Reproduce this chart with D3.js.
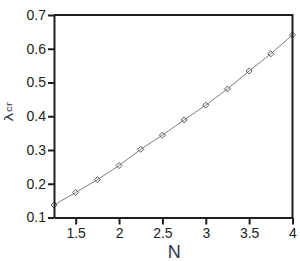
<!DOCTYPE html>
<html>
<head>
<meta charset="utf-8">
<script src="https://cdn.jsdelivr.net/npm/d3@7"></script>
<style>
  html, body { margin: 0; padding: 0; background: #fff; }
  svg { display: block; }
  .tick text { font-family: "Liberation Sans", Arial, Helvetica, sans-serif; font-size: 14px; fill: #222; }
</style>
</head>
<body>
<svg id="chart" width="300" height="261"></svg>
<script>
const N = [1.25, 1.5, 1.75, 2, 2.25, 2.5, 2.75, 3, 3.25, 3.5, 3.75, 4];
const lambdaCr = [0.137, 0.174, 0.212, 0.254, 0.302, 0.344, 0.389, 0.433, 0.481, 0.534, 0.585, 0.641];
const xTicks = [1.5, 2, 2.5, 3, 3.5, 4];
const yTicks = [0.1, 0.2, 0.3, 0.4, 0.5, 0.6, 0.7];
const xDomain = [1.25, 4];
const yDomain = [0.1, 0.7];

const svg = d3.select("#chart");
const mLeft = 54, mRight = 292.5, mTop = 15, mBottom = 217.5;

const x = d3.scaleLinear().domain(xDomain).range([mLeft, mRight]);
const y = d3.scaleLinear().domain(yDomain).range([mBottom, mTop]);

const data = N.map((n, i) => ({ n: n, v: lambdaCr[i] }));

// line
svg.append("path")
  .datum(data)
  .attr("fill", "none")
  .attr("stroke", "#6e6e6e")
  .attr("stroke-width", 0.9)
  .attr("d", d3.line().x(d => x(d.n)).y(d => y(d.v)));

// diamond markers
const diamond = "M0,-3L3,0L0,3L-3,0Z";
svg.append("g").selectAll("path")
  .data(data)
  .join("path")
  .attr("transform", d => `translate(${x(d.n)},${y(d.v)})`)
  .attr("d", diamond)
  .attr("fill", "none")
  .attr("stroke", "#4a4a4a")
  .attr("stroke-width", 0.9);

// box top & right
svg.append("path")
  .attr("d", `M${x(xDomain[0])},${y(yDomain[1])}H${x(xDomain[1])}V${y(yDomain[0])}`)
  .attr("fill", "none")
  .attr("stroke", "#1e1e1e")
  .attr("stroke-width", 2);

// axes
const gx = svg.append("g")
  .attr("transform", `translate(0,${mBottom})`)
  .call(d3.axisBottom(x).tickValues(xTicks).tickSize(7).tickSizeOuter(0).tickPadding(4).tickFormat(d3.format("")));
const gy = svg.append("g")
  .attr("transform", `translate(${mLeft},0)`)
  .call(d3.axisLeft(y).tickValues(yTicks).tickSize(6).tickSizeOuter(0).tickPadding(2).tickFormat(d3.format(".1f")));

[gx, gy].forEach(g => {
  g.select(".domain").attr("stroke", "#1e1e1e").attr("stroke-width", 2);
  g.selectAll(".tick line").attr("stroke", "#1e1e1e").attr("stroke-width", 2);
});

// x label
svg.append("text")
  .attr("x", (mLeft + mRight) / 2 + 1)
  .attr("y", 258)
  .attr("text-anchor", "middle")
  .attr("font-family", "Liberation Sans, Arial, sans-serif")
  .attr("font-size", 18)
  .attr("fill", "#2e3548")
  .text("N");

// y label
const yl = svg.append("text")
  .attr("transform", "translate(12.5,112) rotate(-90) scale(1.3,1)")
  .attr("text-anchor", "middle")
  .attr("font-family", "DejaVu Sans, sans-serif")
  .attr("fill", "#2e3548");
yl.append("tspan").attr("font-size", 12).text("λ");
yl.append("tspan").attr("font-size", 9).attr("font-family", "Liberation Sans, Arial, sans-serif").attr("dy", -1).attr("dx", 0.5).text("cr");
</script>
</body>
</html>
